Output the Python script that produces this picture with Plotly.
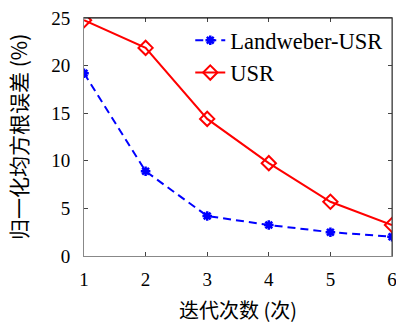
import plotly.graph_objects as go

iterations = [1, 2, 3, 4, 5, 6]
landweber_usr = [19.2, 8.9, 4.2, 3.26, 2.5, 2.03]
usr = [24.77, 21.86, 14.4, 9.75, 5.7, 3.26]
y_ticks = [0, 5, 10, 15, 20, 25]
x_title = "迭代次数 (次)"
y_title = "归一化均方根误差 (%)"

font = "Liberation Serif, DejaVu Serif, Noto Sans CJK SC, serif"
cjk = "Noto Sans CJK SC, serif"

fig = go.Figure()
fig.add_trace(go.Scatter(
    x=iterations, y=landweber_usr, name="Landweber-USR", mode="lines+markers",
    line=dict(color="#0000ff", width=2, dash="8px,5px"),
    marker=dict(symbol="asterisk-open", size=8, color="#0000ff", line=dict(width=2.5, color="#0000ff")),
))
fig.add_trace(go.Scatter(
    x=iterations, y=usr, name="USR", mode="lines+markers",
    line=dict(color="#ff0000", width=2),
    marker=dict(symbol="diamond-open", size=11, color="#ff0000", line=dict(width=2, color="#ff0000")),
))

fig.update_layout(
    width=396, height=325,
    margin=dict(l=84, r=4, t=18, b=69),
    paper_bgcolor="white", plot_bgcolor="white",
    font=dict(family=font, size=18, color="black"),
    showlegend=True,
    legend=dict(x=0.345, y=0.995, xanchor="left", yanchor="top", bgcolor="rgba(0,0,0,0)",
                font=dict(size=22.5), itemwidth=30, tracegroupgap=0),
    xaxis=dict(
        range=[1, 6], tickvals=iterations, ticks="inside", ticklen=4,
        showline=True, linecolor="#888", linewidth=1, mirror="ticks",
        showgrid=False, zeroline=False, ticklabelstandoff=6,
        ticklabeloverflow="allow",
        tickfont=dict(size=19), automargin=False,
    ),
    yaxis=dict(
        range=[0, 25], tickvals=y_ticks, ticks="inside", ticklen=4,
        showline=True, linecolor="#888", linewidth=1, mirror="ticks",
        showgrid=False, zeroline=False, ticklabelstandoff=9,
        tickfont=dict(size=19), automargin=False,
    ),
    shapes=[
        dict(type="line", xref="paper", yref="paper", x0=0, x1=1, y0=1, y1=1,
             line=dict(color="black", width=1)),
        dict(type="line", xref="paper", yref="paper", x0=1, x1=1, y0=0, y1=1,
             line=dict(color="#333", width=1)),
    ],
    annotations=[
        dict(text=x_title, xref="paper", yref="paper", x=0.5, y=0, yshift=-53,
             xanchor="center", yanchor="middle", showarrow=False,
             font=dict(size=20, family=cjk)),
        dict(text=y_title, xref="paper", yref="paper", x=0, y=0.5, xshift=-66,
             xanchor="center", yanchor="middle", showarrow=False, textangle=-90,
             font=dict(size=21, family=cjk)),
    ],
)

fig.write_html("out.html", config={"displayModeBar": False},
               post_script="document.body.style.margin='0';")
